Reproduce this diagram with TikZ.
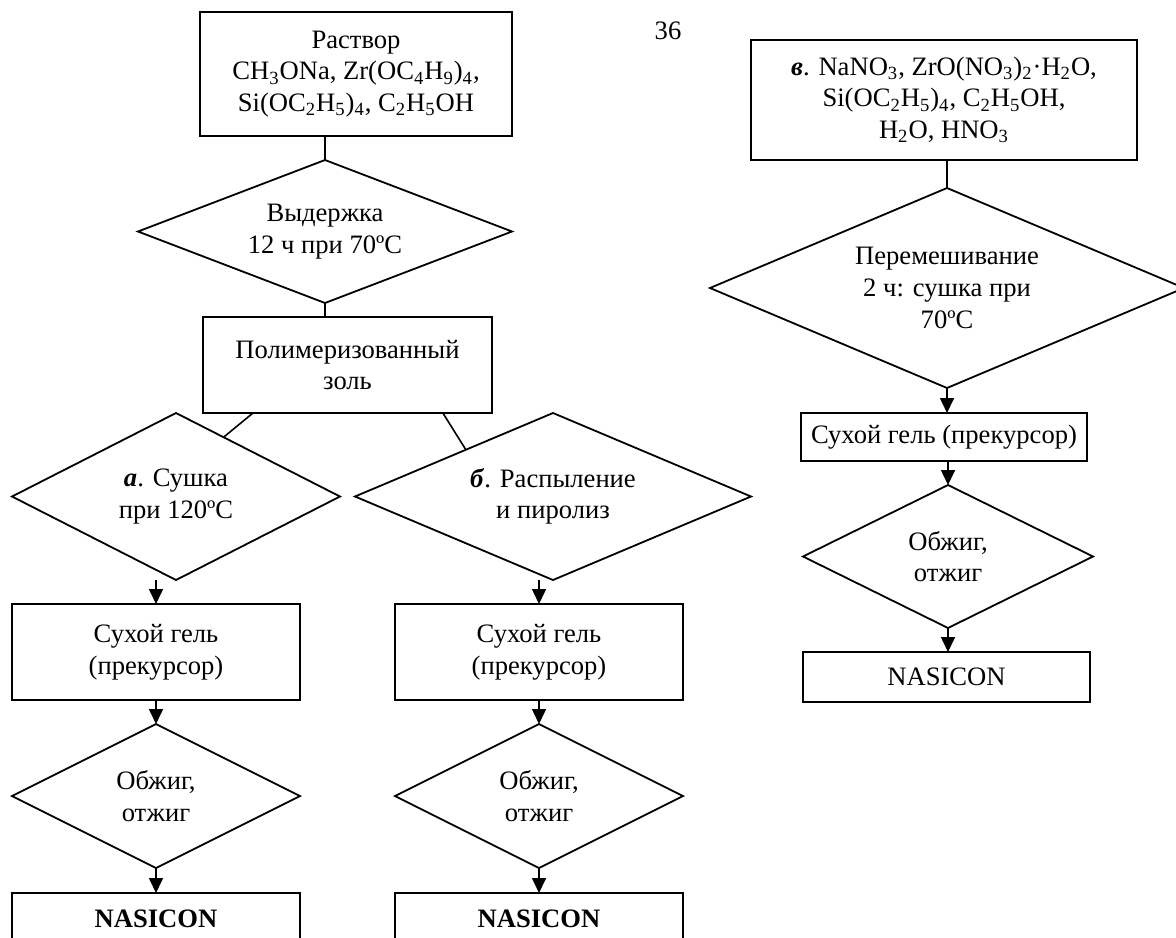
\documentclass[tikz,border=0pt]{standalone}
\usepackage{fontspec}
\setmainfont{Liberation Serif}
\usetikzlibrary{shapes.geometric,arrows.meta,calc}
\begin{document}
\begin{tikzpicture}[x=0.5pt,y=-0.5pt,
  font=\fontsize{13.3}{15.8}\selectfont,
  box/.style={draw,line width=0.9pt,rectangle,align=center,inner sep=0pt,outer sep=0pt},
  dia/.style={draw,line width=0.9pt,diamond,align=center,inner sep=0pt,outer sep=0pt},
  link/.style={line width=0.8pt},
  arr/.style={line width=0.8pt,-{Triangle[length=7.5pt,width=7pt]}}]
\useasboundingbox (0,0) rectangle (1176,937);
\clip (0,0) rectangle (1176,937);

% left / middle branch
\node[box,minimum width=156pt,minimum height=62pt] (top) at (356,74)
  {Раствор\\CH\textsubscript{3}ONa, Zr(OC\textsubscript{4}H\textsubscript{9})\textsubscript{4},\\Si(OC\textsubscript{2}H\textsubscript{5})\textsubscript{4}, C\textsubscript{2}H\textsubscript{5}OH};
\node (pg) at (668,31) {36};
\node[dia,aspect=2.6,minimum width=187pt,minimum height=71.5pt] (d1) at (325,231.5)
  {Выдержка\\12 ч при 70ºC};
\node[box,minimum width=144.5pt,minimum height=48pt] (poly) at (347.5,365)
  {Полимеризованный\\золь};
\node[dia,aspect=2,minimum width=164pt,minimum height=83.5pt] (da) at (176,496.5)
  {\textbf{\textit{а}}. Сушка\\при 120ºC};
\node[dia,aspect=2.4,minimum width=198pt,minimum height=83.5pt] (db) at (553,496.5)
  {\textbf{\textit{б}}. Распыление\\и пиролиз};
\node[box,minimum width=144pt,minimum height=48pt] (sa) at (156,652) {Сухой гель\\(прекурсор)};
\node[box,minimum width=144pt,minimum height=48pt] (sb) at (539,652) {Сухой гель\\(прекурсор)};
\node[dia,aspect=2,minimum width=144pt,minimum height=72pt] (oa) at (156,796) {Обжиг,\\отжиг};
\node[dia,aspect=2,minimum width=144pt,minimum height=72pt] (ob) at (539,796) {Обжиг,\\отжиг};
\node[box,minimum width=144pt,minimum height=26pt,font=\fontsize{13.3}{15.8}\selectfont\bfseries] (na) at (156,919) {NASICON};
\node[box,minimum width=144pt,minimum height=26pt,font=\fontsize{13.3}{15.8}\selectfont\bfseries] (nb) at (539,919) {NASICON};

% right branch
\node[box,minimum width=193pt,minimum height=60pt] (vb) at (944,100)
  {\textbf{\textit{в}}. NaNO\textsubscript{3}, ZrO(NO\textsubscript{3})\textsubscript{2}·H\textsubscript{2}O,\\Si(OC\textsubscript{2}H\textsubscript{5})\textsubscript{4}, C\textsubscript{2}H\textsubscript{5}OH,\\H\textsubscript{2}O, HNO\textsubscript{3}};
\node[dia,aspect=2.4,minimum width=237pt,minimum height=100pt] (dv) at (947,288)
  {Перемешивание\\2 ч: сушка при\\70ºC};
\node[box,minimum width=143pt,minimum height=24pt] (sv) at (944,437) {Сухой гель (прекурсор)};
\node[dia,aspect=2,minimum width=145pt,minimum height=71.5pt] (ov) at (948,556.5) {Обжиг,\\отжиг};
\node[box,minimum width=143.5pt,minimum height=25pt] (nv) at (946.5,677) {NASICON};

% connectors
\draw[link] (d1.north |- top.south) -- (d1.north);
\draw[link] (d1.south) -- (d1.south |- poly.north);
\draw[link] ($(poly.south west)!0.173!(poly.south east)$) -- ($(da.north)!0.29!(da.east)$);
\draw[link] ($(poly.south west)!0.83!(poly.south east)$) -- ($(db.north)!0.44!(db.west)$);
\draw[arr] (da.south -| sa.north) -- (sa.north);
\draw[arr] (db.south -| sb.north) -- (sb.north);
\draw[arr] (sa.south) -- (oa.north);
\draw[arr] (sb.south) -- (ob.north);
\draw[arr] (oa.south) -- (na.north);
\draw[arr] (ob.south) -- (nb.north);

\draw[link] (vb.south -| dv.north) -- (dv.north);
\draw[arr] (dv.south) -- (dv.south |- sv.north);
\draw[arr] (sv.south -| ov.north) -- (ov.north);
\draw[arr] (ov.south) -- (ov.south |- nv.north);
\end{tikzpicture}
\end{document}
